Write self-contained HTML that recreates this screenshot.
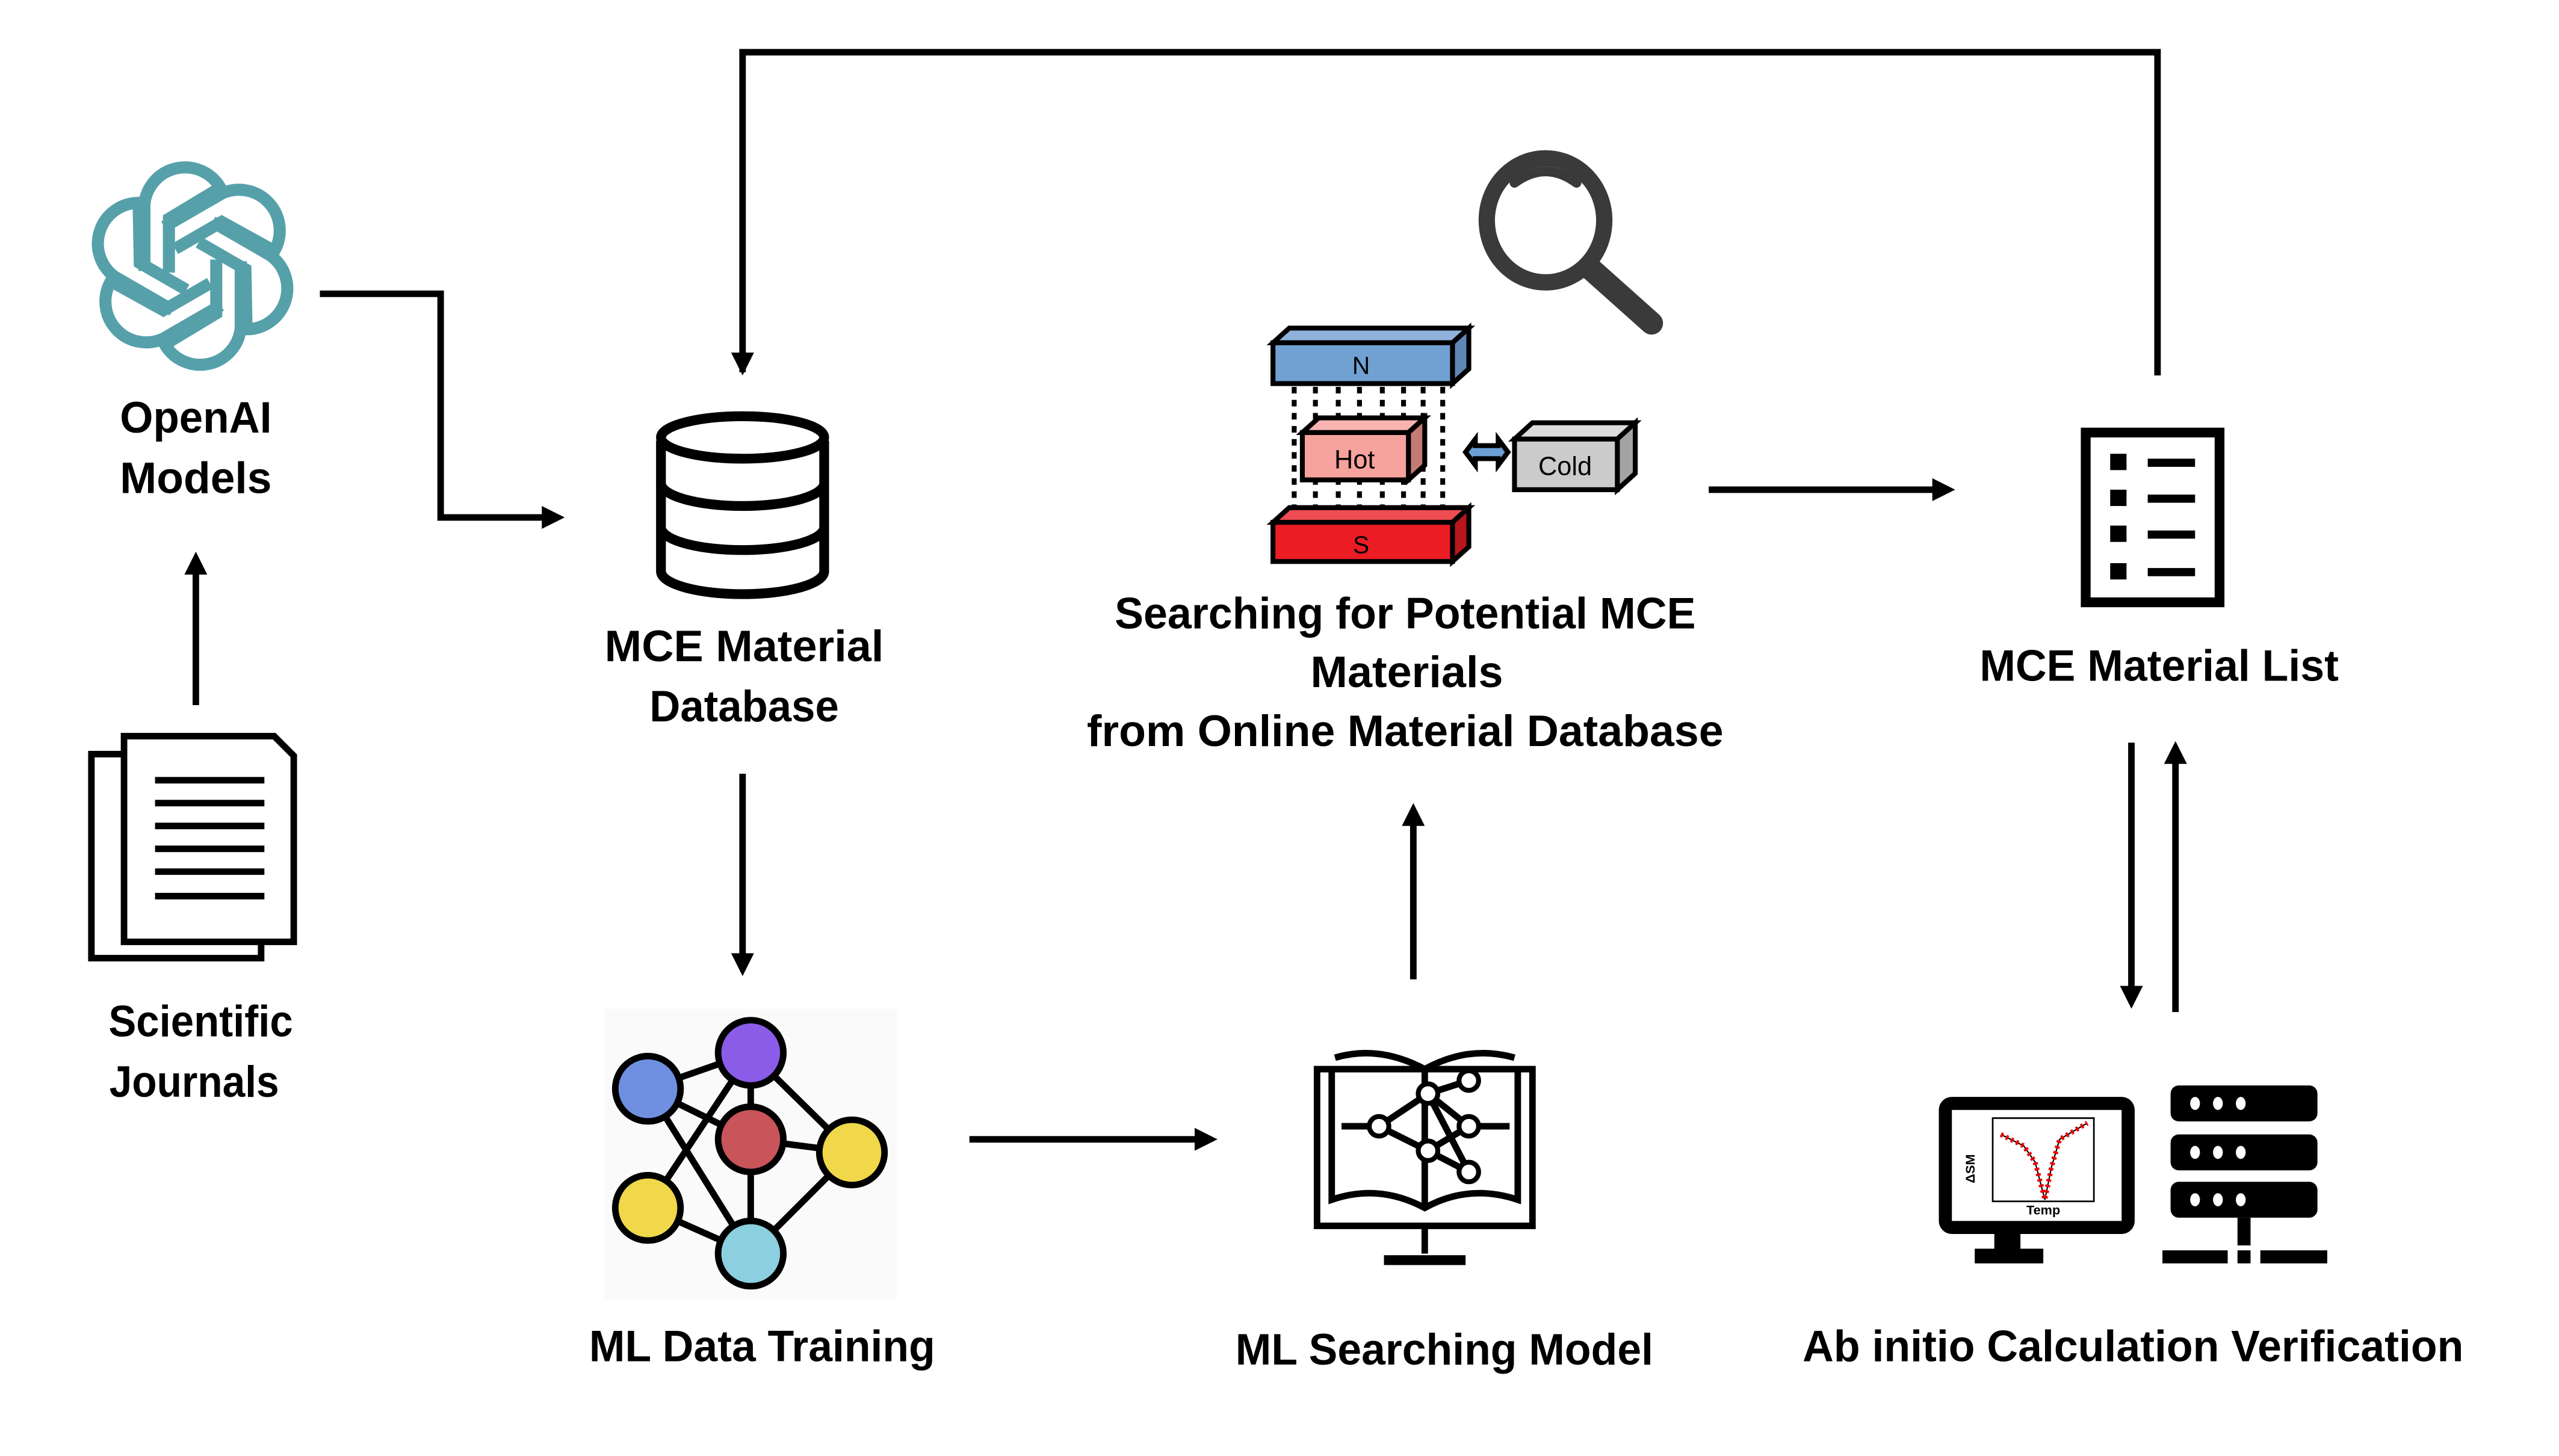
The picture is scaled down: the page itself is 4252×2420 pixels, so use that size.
<!DOCTYPE html>
<html><head><meta charset="utf-8"><style>
html,body{margin:0;padding:0;background:#fff;}
svg{display:block;}
text{font-family:"Liberation Sans",sans-serif;font-weight:bold;fill:#000;}
</style></head><body>
<svg width="4252" height="2420" viewBox="0 0 1568 892" preserveAspectRatio="none" xmlns="http://www.w3.org/2000/svg">
<rect width="1568" height="892" fill="#fff"/>
<g stroke="#000" stroke-width="4" fill="none">
<polyline points="455,228 455,32 1322,32 1322,230"/>
<polyline points="196,180 270,180 270,317 336,317"/>
<line x1="120" y1="432" x2="120" y2="350"/>
<line x1="455" y1="474" x2="455" y2="588"/>
<line x1="594" y1="698" x2="736" y2="698"/>
<line x1="866" y1="600" x2="866" y2="504"/>
<line x1="1047" y1="300" x2="1188" y2="300"/>
<line x1="1306" y1="455" x2="1306" y2="608"/>
<line x1="1333" y1="620" x2="1333" y2="466"/>
</g>
<g fill="#000">
<path d="M448,216 L462,216 L455,230 z"/>
<path d="M332,310 L346,317 L332,324 z"/>
<path d="M113,352 L120,338 L127,352 z"/>
<path d="M448,584 L462,584 L455,598 z"/>
<path d="M732,691 L746,698 L732,705 z"/>
<path d="M859,506 L866,492 L873,506 z"/>
<path d="M1184,293 L1198,300 L1184,307 z"/>
<path d="M1299,604 L1313,604 L1306,618 z"/>
<path d="M1326,468 L1333,454 L1340,468 z"/>
</g>
<!-- OpenAI logo -->
<g transform="translate(118,163)" fill="none" stroke="#56a0aa" stroke-width="7.4" stroke-linejoin="miter">
<g id="pet"><path d="M-29.5,3 L-29.5,-38 A25,25 0 0 1 17,-48 L-14.5,-29 L-14.5,4"/></g>
<use href="#pet" transform="rotate(60)"/><use href="#pet" transform="rotate(120)"/>
<use href="#pet" transform="rotate(180)"/><use href="#pet" transform="rotate(240)"/><use href="#pet" transform="rotate(300)"/>
</g>
<text x="120" y="265" font-size="27" text-anchor="middle" textLength="93" lengthAdjust="spacingAndGlyphs">OpenAI</text>
<text x="120" y="302" font-size="27" text-anchor="middle" textLength="93" lengthAdjust="spacingAndGlyphs">Models</text>
<!-- docs -->
<g stroke="#000" stroke-width="4" fill="#fff">
<rect x="56" y="462" width="104" height="125"/>
<path d="M76,451 L168,451 L180,463 L180,577 L76,577 z"/>
</g>
<g stroke="#000" stroke-width="4">
<line x1="95" y1="478" x2="162" y2="478"/><line x1="95" y1="492" x2="162" y2="492"/>
<line x1="95" y1="506" x2="162" y2="506"/><line x1="95" y1="520" x2="162" y2="520"/>
<line x1="95" y1="534" x2="162" y2="534"/><line x1="95" y1="549" x2="162" y2="549"/>
</g>
<text x="123" y="635" font-size="27" text-anchor="middle" textLength="113" lengthAdjust="spacingAndGlyphs">Scientific</text>
<text x="119" y="672" font-size="27" text-anchor="middle" textLength="104" lengthAdjust="spacingAndGlyphs">Journals</text>
<!-- database -->
<g stroke="#000" stroke-width="6" fill="#fff">
<path d="M405,270 L405,350 A50,14 0 0 0 505,350 L505,270"/>
<ellipse cx="455" cy="268" rx="50" ry="13"/>
<path d="M405,296 A50,14 0 0 0 505,296" fill="none"/>
<path d="M405,323 A50,14 0 0 0 505,323" fill="none"/>
</g>
<text x="456" y="405" font-size="27" text-anchor="middle" textLength="171" lengthAdjust="spacingAndGlyphs">MCE Material</text>
<text x="456" y="442" font-size="27" text-anchor="middle" textLength="116" lengthAdjust="spacingAndGlyphs">Database</text>
<!-- network -->
<rect x="370" y="618" width="180" height="178" fill="#fafafa"/>
<g stroke="#000" stroke-width="4">
<line x1="397" y1="667" x2="460" y2="645"/><line x1="397" y1="667" x2="460" y2="698"/>
<line x1="397" y1="667" x2="460" y2="768"/><line x1="460" y1="645" x2="522" y2="706"/>
<line x1="460" y1="645" x2="397" y2="740"/><line x1="460" y1="698" x2="460" y2="768"/>
<line x1="460" y1="698" x2="522" y2="706"/><line x1="522" y1="706" x2="460" y2="768"/>
<line x1="397" y1="740" x2="460" y2="768"/><line x1="460" y1="645" x2="460" y2="698"/>
</g>
<g stroke="#000" stroke-width="4">
<circle cx="397" cy="667" r="20" fill="#6f8fe0"/><circle cx="460" cy="645" r="20" fill="#8a5ce8"/>
<circle cx="460" cy="698" r="20" fill="#c9545a"/><circle cx="522" cy="706" r="20" fill="#f0d84a"/>
<circle cx="397" cy="740" r="20" fill="#f0d84a"/><circle cx="460" cy="768" r="20" fill="#8ccfe0"/>
</g>
<text x="467" y="834" font-size="27" text-anchor="middle" textLength="212" lengthAdjust="spacingAndGlyphs">ML Data Training</text>
<!-- book monitor -->
<g stroke="#000" stroke-width="4" fill="none">
<rect x="807" y="655" width="132" height="96"/>
<path d="M816,655 L816,735 Q845,725 873,740 Q900,725 930,735 L930,655"/>
<path d="M818,648 Q845,640 873,655 Q900,640 928,648"/>
<line x1="873" y1="655" x2="873" y2="740"/>
<line x1="873" y1="751" x2="873" y2="768"/><line x1="848" y1="772" x2="898" y2="772" stroke-width="6"/>
<line x1="822" y1="690" x2="845" y2="690"/><line x1="845" y1="690" x2="875" y2="670"/>
<line x1="845" y1="690" x2="875" y2="705"/><line x1="875" y1="670" x2="900" y2="662"/>
<line x1="875" y1="670" x2="900" y2="690"/><line x1="875" y1="705" x2="900" y2="690"/>
<line x1="875" y1="705" x2="900" y2="718"/><line x1="875" y1="670" x2="900" y2="718"/>
<line x1="900" y1="690" x2="925" y2="690"/>
</g>
<g fill="#fff" stroke="#000" stroke-width="3">
<circle cx="845" cy="690" r="6"/><circle cx="875" cy="670" r="6"/><circle cx="875" cy="705" r="6"/>
<circle cx="900" cy="662" r="6"/><circle cx="900" cy="690" r="6"/><circle cx="900" cy="718" r="6"/>
</g>
<text x="885" y="836" font-size="27" text-anchor="middle" textLength="256" lengthAdjust="spacingAndGlyphs">ML Searching Model</text>
<!-- magnifier -->
<g stroke="#3a3a3a" fill="none" stroke-linecap="round">
<ellipse cx="947" cy="135" rx="36" ry="38" stroke-width="10"/>
<path d="M928,112 Q947,98 966,112" stroke-width="6"/>
<line x1="975" y1="165" x2="1012" y2="198" stroke-width="14"/>
</g>
<!-- magnets -->
<g stroke="#000" stroke-width="3">
<g stroke-dasharray="4,4" stroke-width="3">
<line x1="793" y1="237" x2="793" y2="315"/><line x1="806" y1="237" x2="806" y2="315"/>
<line x1="820" y1="237" x2="820" y2="315"/><line x1="833" y1="237" x2="833" y2="315"/>
<line x1="847" y1="237" x2="847" y2="315"/><line x1="860" y1="237" x2="860" y2="315"/>
<line x1="872" y1="237" x2="872" y2="315"/><line x1="884" y1="237" x2="884" y2="315"/>
</g>
<path d="M780,210 L790,201 L900,201 L890,210 z" fill="#8fb1dc"/>
<path d="M890,210 L900,201 L900,226 L890,235 z" fill="#5f86b5"/>
<rect x="780" y="210" width="110" height="25" fill="#71a0d2"/>
<path d="M780,320 L790,311 L900,311 L890,320 z" fill="#ef4b52"/>
<path d="M890,320 L900,311 L900,335 L890,344 z" fill="#b8151d"/>
<rect x="780" y="320" width="110" height="24" fill="#ec1c24"/>
<path d="M798,265 L808,256 L873,256 L863,265 z" fill="#f8b4b0"/>
<path d="M863,265 L873,256 L873,285 L863,294 z" fill="#c47b76"/>
<rect x="798" y="265" width="65" height="29" fill="#f6a39d"/>
<path d="M928,269 L939,259 L1002,259 L991,269 z" fill="#dcdcdc"/>
<path d="M991,269 L1002,259 L1002,290 L991,300 z" fill="#a3a3a3"/>
<rect x="928" y="269" width="63" height="31" fill="#cbcbcb"/>
<path d="M898,277 L904,269 L904,273 L918,273 L918,269 L924,277 L918,285 L918,281 L904,281 L904,285 z" fill="#6c9fd6"/>
</g>
<text x="834" y="229" font-size="15" text-anchor="middle" style="font-weight:normal">N</text>
<text x="834" y="339" font-size="15" text-anchor="middle" style="font-weight:normal">S</text>
<text x="830" y="287" font-size="16" text-anchor="middle" style="font-weight:normal">Hot</text>
<text x="959" y="291" font-size="16" text-anchor="middle" style="font-weight:normal">Cold</text>
<text x="861" y="385" font-size="27" text-anchor="middle" textLength="356" lengthAdjust="spacingAndGlyphs">Searching for Potential  MCE</text>
<text x="862" y="421" font-size="27" text-anchor="middle" textLength="118" lengthAdjust="spacingAndGlyphs">Materials</text>
<text x="861" y="457" font-size="27" text-anchor="middle" textLength="390" lengthAdjust="spacingAndGlyphs">from Online Material Database</text>
<!-- list -->
<rect x="1278" y="265" width="82" height="104" fill="none" stroke="#000" stroke-width="6"/>
<g fill="#000">
<rect x="1293" y="278" width="10" height="10"/><rect x="1293" y="300" width="10" height="10"/>
<rect x="1293" y="322" width="10" height="10"/><rect x="1293" y="345" width="10" height="10"/>
<rect x="1316" y="281" width="29" height="5"/><rect x="1316" y="303" width="29" height="5"/>
<rect x="1316" y="325" width="29" height="5"/><rect x="1316" y="348" width="29" height="5"/>
</g>
<text x="1323" y="417" font-size="27" text-anchor="middle" textLength="220" lengthAdjust="spacingAndGlyphs">MCE Material List</text>
<!-- monitor + server -->
<rect x="1188" y="672" width="120" height="84" rx="8" fill="#000"/>
<rect x="1196" y="680" width="104" height="68" fill="#fff"/>
<rect x="1222" y="755" width="16" height="12" fill="#000"/>
<rect x="1210" y="765" width="42" height="9" fill="#000"/>
<rect x="1221" y="685" width="62" height="51" fill="none" stroke="#000" stroke-width="1"/>
<polyline points="1226,695 1240,702 1247,712 1253,735 1257,715 1262,698 1279,688" fill="none" stroke="#000" stroke-width="0.8"/>
<polyline points="1226,695 1240,702 1247,712 1253,735 1257,715 1262,698 1279,688" fill="none" stroke="#e00" stroke-width="3" stroke-dasharray="1.5,2"/>
<text x="1252" y="744" font-size="8" text-anchor="middle">Temp</text>
<text x="1210" y="716" font-size="8" text-anchor="middle" transform="rotate(-90 1210 716)">ΔSM</text>
<g fill="#000">
<rect x="1330" y="665" width="90" height="22" rx="5"/><rect x="1330" y="695" width="90" height="22" rx="5"/>
<rect x="1330" y="724" width="90" height="22" rx="5"/>
<rect x="1371" y="746" width="8" height="17"/>
<rect x="1325" y="766" width="40" height="8"/><rect x="1371" y="766" width="8" height="8"/><rect x="1385" y="766" width="41" height="8"/>
</g>
<g fill="#fff">
<ellipse cx="1345" cy="676" rx="3" ry="4"/><ellipse cx="1359" cy="676" rx="3" ry="4"/><ellipse cx="1373" cy="676" rx="3" ry="4"/>
<ellipse cx="1345" cy="706" rx="3" ry="4"/><ellipse cx="1359" cy="706" rx="3" ry="4"/><ellipse cx="1373" cy="706" rx="3" ry="4"/>
<ellipse cx="1345" cy="735" rx="3" ry="4"/><ellipse cx="1359" cy="735" rx="3" ry="4"/><ellipse cx="1373" cy="735" rx="3" ry="4"/>
</g>
<text x="1307" y="834" font-size="27" text-anchor="middle" textLength="405" lengthAdjust="spacingAndGlyphs">Ab initio Calculation Verification</text>
</svg>
</body></html>
